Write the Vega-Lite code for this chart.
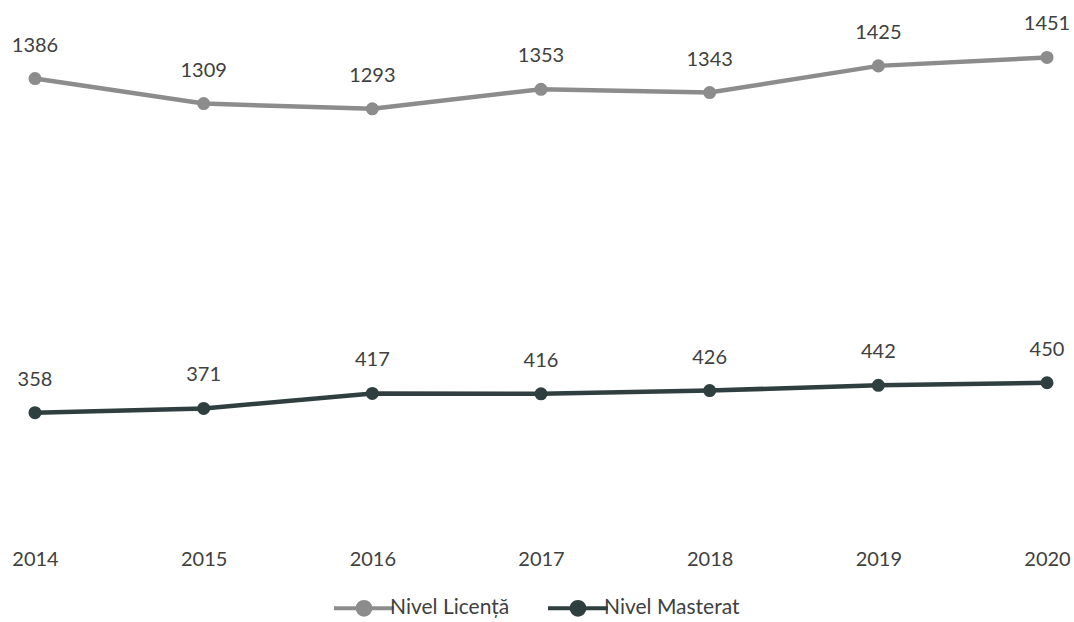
{
  "$schema": "https://vega.github.io/schema/vega-lite/v6.json",
  "width": 1012,
  "height": 520,
  "autosize": {"type": "none"},
  "padding": {"left": 35, "top": 9, "right": 27, "bottom": 93},
  "background": "white",
  "config": {
    "view": {"stroke": null},
    "font": "Lato",
    "legend": {"layout": {"bottom": {"anchor": "middle"}}}
  },
  "data": {
    "values": [
      {"year": "2014", "nivel": "Nivel Licență", "value": 1386},
      {"year": "2015", "nivel": "Nivel Licență", "value": 1309},
      {"year": "2016", "nivel": "Nivel Licență", "value": 1293},
      {"year": "2017", "nivel": "Nivel Licență", "value": 1353},
      {"year": "2018", "nivel": "Nivel Licență", "value": 1343},
      {"year": "2019", "nivel": "Nivel Licență", "value": 1425},
      {"year": "2020", "nivel": "Nivel Licență", "value": 1451},
      {"year": "2014", "nivel": "Nivel Masterat", "value": 358},
      {"year": "2015", "nivel": "Nivel Masterat", "value": 371},
      {"year": "2016", "nivel": "Nivel Masterat", "value": 417},
      {"year": "2017", "nivel": "Nivel Masterat", "value": 416},
      {"year": "2018", "nivel": "Nivel Masterat", "value": 426},
      {"year": "2019", "nivel": "Nivel Masterat", "value": 442},
      {"year": "2020", "nivel": "Nivel Masterat", "value": 450}
    ]
  },
  "encoding": {
    "x": {
      "field": "year", "type": "ordinal",
      "scale": {"type": "point", "padding": 0},
      "axis": {"title": null, "domain": false, "ticks": false, "labelAngle": 0, "labelPadding": 20, "labelFontSize": 20, "labelColor": "#404040", "labelFont": "Lato"}
    },
    "y": {
      "field": "value", "type": "quantitative",
      "scale": {"domain": [0, 1600], "nice": false, "zero": true},
      "axis": null
    },
    "color": {
      "field": "nivel", "type": "nominal",
      "scale": {"domain": ["Nivel Licență", "Nivel Masterat"], "range": ["#8c8c8c", "#2f3f3f"]},
      "legend": {
        "title": null, "orient": "bottom", "direction": "horizontal",
        "labelFontSize": 21, "labelColor": "#404040", "labelFont": "Lato",
        "symbolType": "M-1.5,0L1.5,0M-0.32,0A0.32,0.32,0,1,1,0.32,0A0.32,0.32,0,1,1,-0.32,0Z",
        "symbolSize": 1600, "symbolStrokeWidth": 4, "symbolOffset": 0,
        "columnPadding": 30, "offset": 17, "labelOffset": 4
      }
    }
  },
  "layer": [
    {"mark": {"type": "line", "strokeWidth": 4.5}},
    {"mark": {"type": "point", "filled": true, "size": 170, "opacity": 1}},
    {
      "mark": {"type": "text", "dy": -33, "fontSize": 20, "font": "Lato", "color": "#404040"},
      "encoding": {"text": {"field": "value", "type": "quantitative"}, "color": {"value": "#404040"}}
    }
  ]
}
